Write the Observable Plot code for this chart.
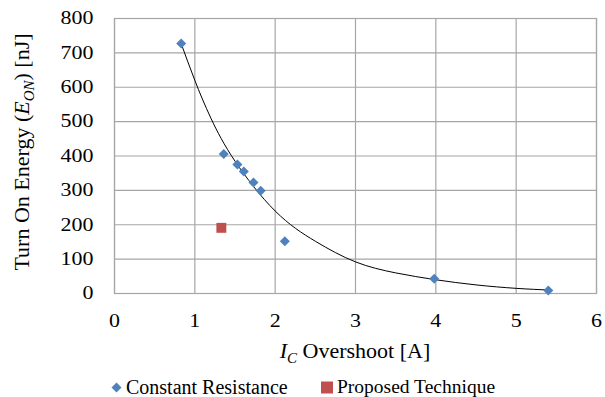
<!DOCTYPE html>
<html>
<head>
<meta charset="utf-8">
<script src="https://cdn.jsdelivr.net/npm/d3@7"></script>
<script src="https://cdn.jsdelivr.net/npm/@observablehq/plot@0.6"></script>
<style>
  html, body { margin: 0; padding: 0; background: #fff; }
  #wrap { position: relative; width: 605px; height: 397px; font-family: "Liberation Serif", "Times New Roman", serif; }
  #legend { position: absolute; left: 0; top: 377px; width: 605px; height: 20px; font-size: 20px; color: #000; }
  #legend .item { position: absolute; top: 0; display: flex; align-items: center; white-space: nowrap; line-height: 20px; }
  #legend svg { margin-right: 2px; }
</style>
</head>
<body>
<div id="wrap">
  <div id="chart"></div>
  <div id="legend"></div>
</div>
<script>
// Series: Constant Resistance
const crX = [0.83, 1.36, 1.53, 1.61, 1.73, 1.82, 2.12, 3.98, 5.40];
const crY = [727, 406, 375, 355, 323, 299, 152, 43, 9];
// Series: Proposed Technique
const ptX = [1.33];
const ptY = [191];
// Trend line
const trendX = [0.83, 1.0, 1.2, 1.5, 2.0, 2.5, 3.0, 3.5, 4.0, 4.5, 5.0, 5.42];
const trendY = [727, 620, 510, 385, 240, 152, 92, 60, 40, 25, 15, 10];
// Ticks
const xTicks = [0, 1, 2, 3, 4, 5, 6];
const yTicks = [0, 100, 200, 300, 400, 500, 600, 700, 800];

const blue = "#4f81bd";
const red = "#c0504d";
const grid = "#a6a6a6";

const cr = crX.map((x, i) => ({x, y: crY[i]}));
const pt = ptX.map((x, i) => ({x, y: ptY[i]}));
const trend = trendX.map((x, i) => ({x, y: trendY[i]}));

const W = 605, H = 372;
const chart = Plot.plot({
  width: W,
  height: H,
  marginLeft: 114,
  marginRight: 9,
  marginTop: 18,
  marginBottom: 79,
  style: { fontFamily: "'Liberation Serif', 'Times New Roman', serif", fontSize: "18px", color: "#000", background: "#fff" },
  x: { domain: [0, 6], label: null },
  y: { domain: [0, 800], label: null },
  marks: [
    Plot.gridX(xTicks, { stroke: grid, strokeOpacity: 1, strokeWidth: 1.2 }),
    Plot.gridY(yTicks, { stroke: grid, strokeOpacity: 1, strokeWidth: 1.2 }),
    Plot.frame({ stroke: grid, strokeWidth: 1.2 }),
    Plot.axisX(xTicks, { tickSize: 0, tickPadding: 21, tickFormat: d => String(d), fontSize: 18 }),
    Plot.axisY(yTicks, { tickSize: 0, tickPadding: 21, tickFormat: d => String(d), fontSize: 18 }),
    Plot.line(trend, { x: "x", y: "y", curve: "natural", stroke: "#000", strokeWidth: 1 }),
    Plot.dot(cr, { x: "x", y: "y", symbol: "square", rotate: 45, r: 4, fill: blue, stroke: "none" }),
    Plot.dot(pt, { x: "x", y: "y", symbol: "square", r: 5.6, fill: red, stroke: "none" })
  ]
});
document.getElementById("chart").appendChild(chart);

// Widen tick labels slightly (reference glyphs are horizontally stretched)
d3.select(chart).selectAll('g[aria-label="x-axis tick label"] text, g[aria-label="y-axis tick label"] text')
  .each(function () {
    const len = this.getComputedTextLength();
    this.setAttribute("textLength", (len * 1.22).toFixed(2));
    this.setAttribute("lengthAdjust", "spacingAndGlyphs");
  });

// Axis titles with subscripts
const svg = d3.select(chart);
const xt = svg.append("text")
  .attr("x", 355).attr("y", 358)
  .attr("text-anchor", "middle")
  .attr("font-size", 22)
  .attr("fill", "#000");
xt.append("tspan").attr("font-style", "italic").text("I");
xt.append("tspan").attr("font-style", "italic").attr("font-size", 15).attr("dy", 5).text("C");
xt.append("tspan").attr("dy", -5).text(" Overshoot [A]");

const yt = svg.append("text")
  .attr("transform", "translate(29,152) rotate(-90)")
  .attr("text-anchor", "middle")
  .attr("font-size", 22)
  .attr("fill", "#000");
yt.append("tspan").text("Turn On Energy (");
yt.append("tspan").attr("font-style", "italic").text("E");
yt.append("tspan").attr("font-style", "italic").attr("font-size", 15).attr("dy", 5).text("ON");
yt.append("tspan").attr("dy", -5).text(") [nJ]");

// Legend
const legend = d3.select("#legend");
const items = [
  { label: "Constant Resistance", color: blue, shape: "diamond", left: 109, size: 20 },
  { label: "Proposed Technique", color: red, shape: "square", left: 320, size: 19.5 }
];
for (const it of items) {
  const d = legend.append("div").attr("class", "item").style("left", it.left + "px").style("font-size", it.size + "px");
  const s = d.append("svg").attr("width", 15).attr("height", 14);
  if (it.shape === "diamond") {
    s.append("path").attr("d", "M7.5,2.5L12.5,7.5L7.5,12.5L2.5,7.5Z").attr("fill", it.color);
  } else {
    s.append("rect").attr("x", 1).attr("y", 1.5).attr("width", 12).attr("height", 12).attr("fill", it.color);
  }
  d.append("span").text(it.label);
}
</script>
</body>
</html>
